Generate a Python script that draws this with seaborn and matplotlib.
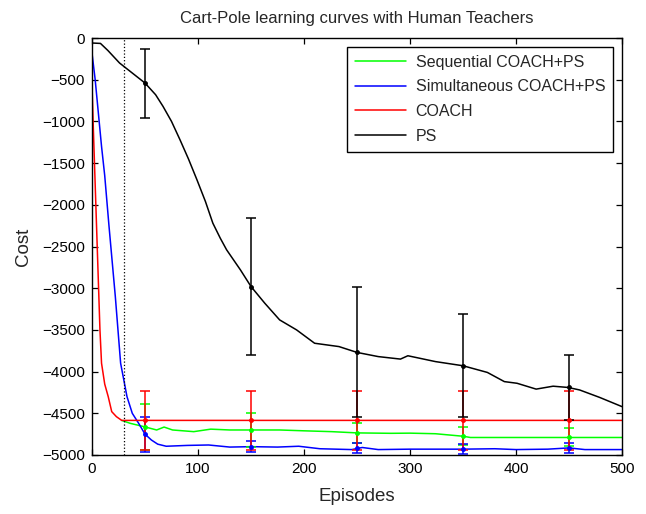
import numpy as np
import pandas as pd
import matplotlib
matplotlib.use("Agg")
import matplotlib.pyplot as plt
import seaborn as sns

# ---------------- data ----------------
seq_ep = [28, 36, 49, 55, 61, 68, 76, 96, 112, 130, 151, 177, 200, 226, 250, 282, 300, 324, 350, 357, 400, 450, 500]
seq_cost = [-4585, -4620, -4660, -4680, -4700, -4665, -4700, -4720, -4690, -4700, -4700, -4700, -4710, -4720,
            -4735, -4740, -4738, -4745, -4775, -4790, -4790, -4790, -4790]

sim_ep = [0, 3, 6, 9, 12, 16, 22, 27, 33, 38, 44, 50, 56, 62, 70, 90, 110, 130, 150, 175, 195, 215, 245,
          255, 270, 300, 350, 380, 400, 430, 450, 465, 500]
sim_cost = [-180, -500, -900, -1300, -1650, -2250, -3100, -3900, -4300, -4500, -4620, -4750, -4820, -4870,
            -4895, -4885, -4880, -4905, -4900, -4905, -4895, -4925, -4935, -4910, -4935, -4930, -4930,
            -4925, -4935, -4930, -4915, -4935, -4935]

coach_ep = [0, 1.3, 4.4, 7.5, 9, 12, 15.3, 18.6, 23, 28, 100, 200, 300, 400, 500]
coach_cost = [-560, -1100, -2300, -3500, -3900, -4150, -4300, -4480, -4540, -4585, -4585, -4585, -4585, -4585, -4585]

ps_ep = [0, 8, 15, 26, 38, 50, 60, 67, 75, 83, 91, 99, 107, 114, 121, 127, 140, 150, 163, 177, 193, 210,
         233, 250, 270, 291, 298, 324, 350, 373, 389, 401, 419, 435, 449, 460, 479, 500]
ps_cost = [-60, -65, -150, -300, -420, -540, -680, -820, -1000, -1220, -1450, -1700, -1960, -2220, -2400,
           -2540, -2780, -2980, -3180, -3380, -3500, -3660, -3700, -3770, -3820, -3850, -3810, -3880, -3930,
           -4010, -4120, -4140, -4210, -4175, -4190, -4220, -4310, -4420]

err_ep = [50, 150, 250, 350, 450]
seq_mean = [-4660, -4700, -4740, -4770, -4785]
seq_err = [275, 200, 120, 110, 113]
sim_mean = [-4750, -4900, -4920, -4925, -4920]
sim_err = [210, 65, 60, 60, 60]
coach_mean = [-4585, -4585, -4585, -4585, -4585]
coach_err = [350, 350, 350, 350, 350]
ps_mean = [-543, -2980, -3760, -3930, -4190]
ps_err = [415, 825, 780, 620, 395]

labels = ["Sequential COACH+PS", "Simultaneous COACH+PS", "COACH", "PS"]
colors = ["#00ff00", "#0000ff", "#ff0000", "#000000"]
x_ticks = [0, 100, 200, 300, 400, 500]
y_ticks = list(range(0, -5001, -500))
teacher_switch = 30

# ---------------- style ----------------
sns.set_theme(style="white")
plt.rcParams.update({
    "font.family": ["Liberation Sans", "DejaVu Sans"],
    "xtick.direction": "in", "ytick.direction": "in",
    "xtick.top": True, "ytick.right": True,
    "xtick.bottom": True, "ytick.left": True,
    "xtick.major.size": 4, "ytick.major.size": 4,
    "xtick.major.width": 0.9, "ytick.major.width": 0.9,
    "axes.edgecolor": "black", "axes.linewidth": 1.0,
    "xtick.color": "black", "ytick.color": "black",
})

fig = plt.figure(figsize=(6.46, 5.14), dpi=100)
ax = fig.add_axes([92 / 646, 1 - 455 / 514, 530 / 646, 417 / 514])

series = [(seq_ep, seq_cost), (sim_ep, sim_cost), (coach_ep, coach_cost), (ps_ep, ps_cost)]
for (ep, cost), lab, col in zip(series, labels, colors):
    df = pd.DataFrame({"Episodes": ep, "Cost": cost})
    sns.lineplot(data=df, x="Episodes", y="Cost", color=col, label=lab, lw=1.1,
                 estimator=None, sort=False, ax=ax)

for m, e, col in zip([seq_mean, sim_mean, coach_mean, ps_mean],
                     [seq_err, sim_err, coach_err, ps_err], colors):
    ax.errorbar(err_ep, m, yerr=e, fmt=".", color=col, ms=5, capsize=3.5, elinewidth=1.1,
                capthick=1.1)

ax.axvline(teacher_switch, color="black", ls=":", lw=0.9)

ax.set_xlim(0, 500)
ax.set_ylim(-5000, 0)
ax.set_xticks(x_ticks)
ax.set_yticks(y_ticks)
ax.tick_params(labelsize=11, pad=5)
ax.set_xlabel("Episodes", fontsize=13.5, labelpad=9)
ax.set_ylabel("Cost", fontsize=13.5, labelpad=7)
ax.set_title("Cart-Pole learning curves with Human Teachers", fontsize=12, pad=11)
for s in ax.spines.values():
    s.set_visible(True)

leg = ax.legend(loc="upper right", fontsize=11.5, frameon=True, fancybox=False,
                edgecolor="black", framealpha=1, handlelength=3.2, handletextpad=0.6,
                labelspacing=0.6, borderaxespad=0.55, borderpad=0.5)
leg.get_frame().set_linewidth(1.0)

fig.savefig("out.png", dpi=100)
